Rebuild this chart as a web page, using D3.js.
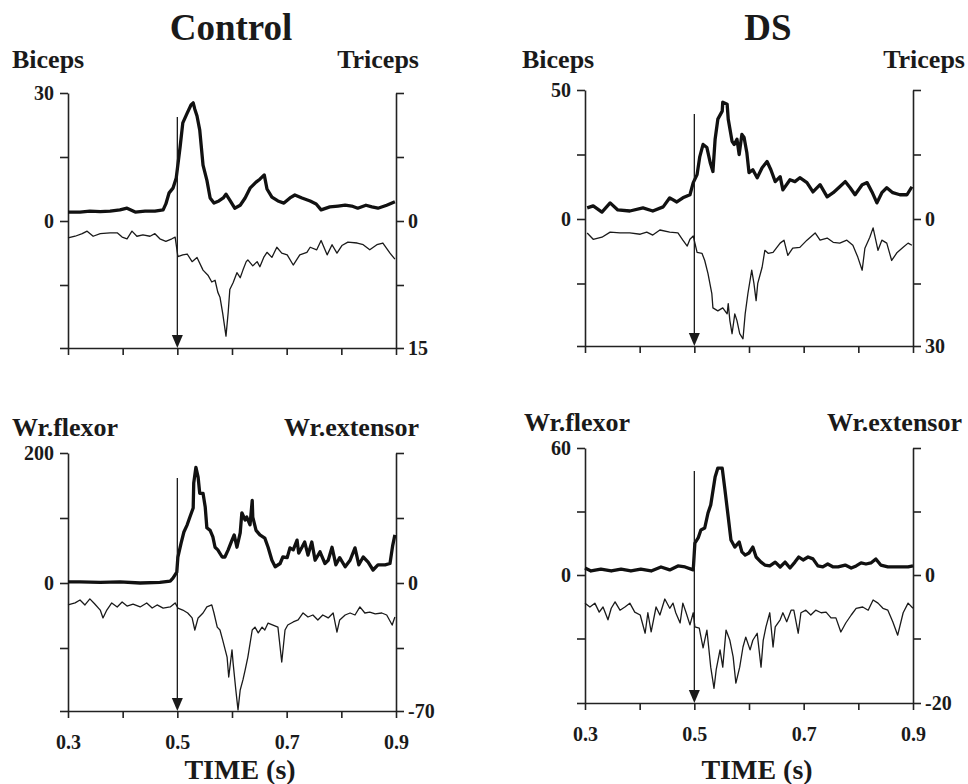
<!DOCTYPE html>
<html>
<head>
<meta charset="utf-8">
<script src="https://cdn.jsdelivr.net/npm/d3@7"></script>
<style>
  body { margin: 0; background: #fff; }
  svg { display: block; }
  .axis path, .axis line { stroke: #222; stroke-width: 1.6px; }
  .lbl { font-family: "Liberation Serif", "Times New Roman", serif; font-weight: bold; fill: #1a1a1a; }
</style>
</head>
<body>
<svg class="fig" width="968" height="784"></svg>
<script>
// ---- data ----
var groups = ["Control", "DS"]
var muscles = [["Biceps", "Triceps"], ["Wr.flexor", "Wr.extensor"]]
var timeTicks = [0.3, 0.4, 0.5, 0.6, 0.7, 0.8, 0.9]
var timeLabels = [0.3, 0.5, 0.7, 0.9]
var stimTime = 0.5
// top value of left axis, bottom value of right axis (panel order: ctrl arm, ds arm, ctrl wrist, ds wrist)
var leftTopValues = [30, 50, 200, 60]
var rightBottomValues = [15, 30, -70, -20]

// Control - biceps (thick, left axis)
var ctrlBicepsT = [0.300,0.322,0.340,0.359,0.377,0.395,0.408,0.423,0.441,0.459,0.474,0.479,0.485,0.492,0.498,0.505,0.510,0.518,0.525,0.529,0.532,0.536,0.541,0.547,0.554,0.560,0.567,0.576,0.584,0.589,0.596,0.605,0.615,0.624,0.633,0.644,0.651,0.659,0.664,0.673,0.684,0.695,0.706,0.715,0.728,0.743,0.754,0.763,0.779,0.794,0.807,0.819,0.830,0.845,0.856,0.867,0.883,0.898]
var ctrlBicepsV = [2.1,2.1,2.3,2.2,2.3,2.6,3.0,2.1,2.3,2.3,2.6,4.0,6.6,7.7,10.1,17.3,23.0,25.3,27.2,27.7,26.2,24.6,21.3,13.1,9.6,5.4,4.2,4.7,5.4,6.3,4.9,3.0,3.7,5.4,7.7,9.1,9.8,10.8,7.5,5.6,4.7,4.2,5.4,6.1,5.4,4.7,4.0,2.6,3.3,3.5,3.7,3.5,3.0,3.7,3.3,3.0,3.7,4.5]
// Control - triceps (thin, right axis)
var ctrlTricepsT = [0.300,0.313,0.326,0.335,0.346,0.359,0.377,0.390,0.399,0.408,0.417,0.426,0.437,0.450,0.459,0.468,0.479,0.490,0.496,0.501,0.510,0.518,0.527,0.536,0.547,0.556,0.563,0.569,0.574,0.578,0.583,0.589,0.593,0.596,0.602,0.609,0.615,0.620,0.626,0.629,0.638,0.646,0.651,0.658,0.664,0.673,0.682,0.691,0.701,0.712,0.724,0.737,0.743,0.755,0.763,0.774,0.783,0.792,0.801,0.812,0.829,0.840,0.852,0.865,0.876,0.889,0.898]
var ctrlTricepsV = [2.0,1.8,1.5,1.2,1.8,1.5,1.4,1.4,1.9,2.1,1.2,1.8,1.65,1.8,1.5,2.1,2.4,2.1,1.9,4.2,4.0,3.9,4.8,4.3,5.8,6.4,7.2,7.0,8.4,9.0,10.9,13.6,10.8,8.1,7.3,6.1,6.7,5.8,4.8,4.6,5.3,4.8,5.4,4.3,3.7,4.3,3.1,3.8,4.0,5.2,4.0,3.7,3.1,3.4,2.3,4.0,2.8,3.8,2.9,2.5,2.6,2.8,3.4,2.8,2.6,3.8,4.5]

// DS - biceps
var dsBicepsT = [0.304,0.315,0.331,0.346,0.360,0.382,0.406,0.424,0.443,0.455,0.468,0.479,0.492,0.498,0.505,0.510,0.516,0.523,0.529,0.534,0.538,0.543,0.551,0.552,0.560,0.562,0.569,0.573,0.578,0.582,0.587,0.591,0.596,0.600,0.607,0.615,0.624,0.633,0.640,0.648,0.657,0.662,0.675,0.684,0.693,0.706,0.717,0.730,0.743,0.754,0.766,0.776,0.785,0.794,0.807,0.816,0.825,0.834,0.843,0.852,0.863,0.876,0.889,0.898]
var dsBicepsV = [4.3,5.1,2.7,6.25,3.5,3.1,4.3,3.1,4.7,8.2,6.6,8.2,9.4,14.1,17.2,24.2,28.9,27.7,21.9,18.4,30.9,38.7,41.8,45.3,44.5,38.7,30.1,28.9,30.9,25.0,32.8,31.6,25.8,18.0,19.1,16.0,19.9,22.3,19.1,14.5,16.4,11.3,15.2,14.5,16.0,14.1,10.5,13.3,8.6,10.2,12.5,14.5,12.1,9.4,13.3,14.1,10.5,6.25,10.2,12.1,10.2,9.4,9.4,12.5]
// DS - triceps
var dsTricepsT = [0.304,0.315,0.331,0.346,0.364,0.382,0.401,0.413,0.424,0.437,0.455,0.470,0.479,0.487,0.492,0.498,0.505,0.514,0.519,0.525,0.532,0.534,0.543,0.552,0.560,0.562,0.565,0.569,0.574,0.578,0.583,0.589,0.593,0.598,0.605,0.609,0.613,0.616,0.624,0.629,0.635,0.644,0.657,0.664,0.671,0.680,0.693,0.706,0.721,0.730,0.743,0.754,0.766,0.779,0.790,0.799,0.807,0.812,0.821,0.827,0.836,0.843,0.852,0.861,0.871,0.882,0.891,0.898]
var dsTricepsV = [3.3,4.8,4.3,3.1,3.3,3.3,3.6,3.1,3.8,2.6,3.1,3.3,5.0,6.4,4.8,4.0,7.9,8.1,9.8,12.9,17.6,21.0,21.7,21.0,22.4,20.0,24.0,27.1,22.4,24.0,27.1,28.3,22.4,17.6,12.1,15.2,19.3,15.2,11.4,7.4,8.1,7.9,5.7,5.0,8.6,6.9,6.7,5.0,3.3,5.0,4.5,5.5,5.7,5.0,6.2,9.0,12.1,6.9,4.3,2.1,7.4,5.0,5.7,9.8,7.9,6.7,5.7,6.2]

// Control - wrist flexor
var ctrlFlexorT = [0.300,0.322,0.359,0.395,0.432,0.468,0.487,0.492,0.499,0.501,0.507,0.512,0.518,0.523,0.529,0.530,0.534,0.538,0.541,0.547,0.551,0.554,0.560,0.565,0.569,0.574,0.582,0.587,0.593,0.600,0.604,0.609,0.615,0.618,0.624,0.627,0.633,0.637,0.638,0.644,0.651,0.660,0.666,0.673,0.679,0.688,0.693,0.701,0.706,0.712,0.719,0.722,0.728,0.733,0.739,0.746,0.752,0.761,0.770,0.776,0.783,0.790,0.797,0.807,0.816,0.825,0.832,0.840,0.849,0.858,0.867,0.880,0.889,0.894,0.898]
var ctrlFlexorV = [1.8,1.8,0.9,1.8,0,0.9,2.8,7.4,16.6,39.7,61.8,78.5,89.5,101.5,115.4,154,178,163,138,138,117,85,81,71,55,51,40,40,51,66,74,55,77,108,97,101.5,89.5,127,101.5,81,74,69,55,35,25,30,40,39,54,51,66,46,55,63,43,63,35,48,30,35,55,28,39,25,35,54,28,40,32,20,28,28,30,58,74]
// Control - wrist extensor
var ctrlExtensorT = [0.300,0.313,0.322,0.331,0.340,0.349,0.359,0.364,0.371,0.380,0.390,0.399,0.408,0.419,0.432,0.444,0.454,0.463,0.474,0.487,0.496,0.501,0.510,0.519,0.527,0.532,0.538,0.547,0.554,0.563,0.567,0.573,0.578,0.583,0.591,0.594,0.600,0.602,0.607,0.611,0.615,0.620,0.624,0.629,0.637,0.642,0.648,0.655,0.660,0.666,0.675,0.684,0.691,0.697,0.702,0.712,0.721,0.730,0.739,0.748,0.757,0.766,0.776,0.785,0.792,0.797,0.807,0.816,0.825,0.834,0.843,0.852,0.862,0.874,0.883,0.893,0.898]
var ctrlExtensorV = [-12.0,-10.9,-9.3,-12.0,-8.7,-11.5,-14.8,-19.1,-14.8,-10.9,-13.1,-10.4,-12.6,-11.5,-13.1,-10.9,-13.7,-12.0,-13.7,-13.1,-10.9,-13.7,-14.8,-16.4,-19.1,-25.7,-19.1,-16.4,-13.1,-12.0,-16.4,-24.1,-25.7,-31.2,-40.5,-51.4,-36.6,-43.7,-58.5,-69.4,-58.5,-53.0,-47.6,-40.5,-25.7,-24.1,-27.3,-24.1,-25.7,-21.9,-23.0,-24.1,-43.2,-25.7,-23.0,-21.3,-20.2,-16.4,-18.6,-17.5,-20.2,-17.5,-19.1,-16.4,-26.8,-20.2,-17.5,-16.4,-17.5,-13.1,-16.4,-15.9,-16.9,-16.4,-17.5,-23.0,-18.6]

// DS - wrist flexor
var dsFlexorT = [0.300,0.311,0.329,0.348,0.366,0.384,0.402,0.421,0.439,0.455,0.470,0.483,0.498,0.501,0.507,0.512,0.519,0.525,0.530,0.538,0.543,0.551,0.556,0.562,0.567,0.574,0.582,0.587,0.593,0.600,0.607,0.613,0.622,0.629,0.638,0.648,0.657,0.666,0.675,0.684,0.691,0.699,0.708,0.717,0.726,0.735,0.744,0.754,0.763,0.776,0.787,0.796,0.805,0.814,0.823,0.832,0.841,0.854,0.867,0.878,0.891,0.900]
var dsFlexorV = [3.3,1.9,2.8,1.9,2.8,1.9,2.8,1.9,3.8,2.4,4.3,3.8,2.4,15.1,17.5,21.3,22.2,29.3,33.1,46.3,50.5,50.5,40.2,27.4,16.5,13.2,15.6,10.9,9.4,10.4,13.2,8.5,6.1,4.7,4.3,6.1,3.8,6.1,3.3,6.1,8.5,7.1,8.5,7.6,4.3,3.8,5.2,3.8,3.8,4.7,3.3,4.3,5.7,5.2,5.7,7.6,4.7,3.8,3.8,3.8,3.8,4.3]
// DS - wrist extensor
var dsExtensorT = [0.300,0.309,0.318,0.326,0.333,0.342,0.348,0.355,0.364,0.373,0.382,0.391,0.401,0.410,0.415,0.421,0.430,0.437,0.446,0.455,0.461,0.466,0.474,0.479,0.485,0.492,0.498,0.501,0.509,0.516,0.523,0.530,0.536,0.540,0.547,0.552,0.558,0.565,0.571,0.576,0.583,0.589,0.594,0.602,0.607,0.615,0.622,0.626,0.631,0.638,0.644,0.648,0.657,0.662,0.669,0.677,0.682,0.690,0.695,0.704,0.713,0.722,0.732,0.741,0.750,0.759,0.768,0.777,0.787,0.796,0.808,0.818,0.827,0.836,0.845,0.854,0.863,0.872,0.882,0.891,0.900]
var dsExtensorV = [-4.4,-5.0,-4.4,-5.8,-5.0,-7.0,-5.2,-4.2,-5.5,-5.0,-4.4,-5.8,-6.25,-9.1,-5.9,-8.9,-5.0,-6.25,-3.75,-5.2,-4.4,-5.9,-7.5,-4.4,-5.9,-7.8,-5.9,-8.1,-8.3,-11.4,-8.6,-14.4,-17.7,-14.8,-11.7,-14.4,-8.6,-10.2,-12.8,-16.9,-14.4,-11.25,-9.7,-11.7,-10.2,-9.1,-14.4,-10.2,-8.1,-5.9,-11.25,-8.1,-7.0,-5.9,-7.3,-5.5,-5.5,-9.1,-5.9,-5.5,-6.25,-5.5,-5.9,-5.8,-6.7,-6.7,-8.9,-7.5,-6.25,-5.2,-5.0,-5.5,-3.9,-4.4,-5.2,-5.5,-7.3,-9.4,-5.9,-4.4,-5.2]

// ---- layout (pixels) ----
var layout = [
  {x0: 68,  x1: 396, top: 93,  zero: 221, bottom: 348, arrowTop: 117, nameY: 68,  nameL: 12,  nameR: 419, timeX: 240, row: 0},
  {x0: 585, x1: 913, top: 90,  zero: 219, bottom: 346, arrowTop: 114, nameY: 68,  nameL: 522, nameR: 965, timeX: 757, row: 0},
  {x0: 68,  x1: 396, top: 453, zero: 583, bottom: 711, arrowTop: 478, nameY: 436, nameL: 12,  nameR: 419, timeX: 240, row: 1},
  {x0: 585, x1: 913, top: 448, zero: 575, bottom: 703, arrowTop: 471, nameY: 431, nameL: 524, nameR: 962, timeX: 757, row: 1}
]
var titleX = [231, 768]
var traces = [
  [[ctrlBicepsT, ctrlBicepsV], [ctrlTricepsT, ctrlTricepsV]],
  [[dsBicepsT, dsBicepsV], [dsTricepsT, dsTricepsV]],
  [[ctrlFlexorT, ctrlFlexorV], [ctrlExtensorT, ctrlExtensorV]],
  [[dsFlexorT, dsFlexorV], [dsExtensorT, dsExtensorV]]
]

var svg = d3.select(".fig")
var serif = "'Liberation Serif', 'Times New Roman', serif"

function styleAxis(sel, size) {
  sel.attr("font-family", serif).attr("font-size", size).attr("font-weight", "bold")
  sel.selectAll("text").attr("fill", "#1a1a1a")
}

function drawPanel(p, i) {
  var hi = leftTopValues[i]
  var rb = rightBottomValues[i]
  var leftBottom = -hi * (p.bottom - p.zero) / (p.zero - p.top)
  var rightTop = -rb * (p.zero - p.top) / (p.bottom - p.zero)

  var x = d3.scaleLinear().domain([0.3, 0.9]).range([p.x0, p.x1])
  var yL = d3.scaleLinear().domain([leftBottom, hi]).range([p.bottom, p.top])
  var yR = d3.scaleLinear().domain([rightTop, rb]).range([p.top, p.bottom])

  var leftTicks = [hi, hi / 2, 0, -hi / 2, leftBottom]
  var rightTicks = leftTicks.map(v => yR.invert(yL(v)))
  rightTicks[rightTicks.length - 1] = rb

  var g = svg.append("g").attr("class", "panel")

  g.append("g")
    .attr("class", "axis")
    .attr("transform", "translate(" + p.x0 + ",0)")
    .call(d3.axisLeft(yL).tickValues(leftTicks).tickSize(8).tickSizeOuter(0).tickPadding(6)
      .tickFormat(d => (d === hi || d === 0) ? String(d) : ""))
    .call(styleAxis, 20)

  g.append("g")
    .attr("class", "axis")
    .attr("transform", "translate(" + p.x1 + ",0)")
    .call(d3.axisRight(yR).tickValues(rightTicks).tickSize(8).tickSizeOuter(0).tickPadding(4)
      .tickFormat(d => d === rb ? String(rb) : (Math.abs(d) < 1e-9 ? "0" : "")))
    .call(styleAxis, 20)

  g.append("g")
    .attr("class", "axis")
    .attr("transform", "translate(0," + p.bottom + ")")
    .call(d3.axisBottom(x).tickValues(timeTicks).tickSize(7).tickSizeOuter(0).tickPadding(17)
      .tickFormat(d => (p.row === 1 && timeLabels.some(t => Math.abs(t - d) < 1e-9)) ? d3.format(".1f")(d) : ""))
    .call(styleAxis, 20)

  // thin trace (right axis) first, thick on top
  var lineR = d3.line().x(d => x(d[0])).y(d => yR(d[1]))
  var lineL = d3.line().x(d => x(d[0])).y(d => yL(d[1]))

  g.append("path")
    .datum(d3.zip(traces[i][1][0], traces[i][1][1]))
    .attr("d", lineR)
    .attr("fill", "none")
    .attr("stroke", "#1a1a1a")
    .attr("stroke-width", 1.3)
    .attr("stroke-linejoin", "round")

  g.append("path")
    .datum(d3.zip(traces[i][0][0], traces[i][0][1]))
    .attr("d", lineL)
    .attr("fill", "none")
    .attr("stroke", "#111")
    .attr("stroke-width", 3.3)
    .attr("stroke-linejoin", "round")

  // stimulus arrow
  var cx = x(stimTime)
  g.append("line")
    .attr("x1", cx).attr("x2", cx)
    .attr("y1", p.arrowTop).attr("y2", p.bottom - 4)
    .attr("stroke", "#1a1a1a").attr("stroke-width", 1.3)
  g.append("path")
    .attr("d", "M" + (cx - 5.5) + "," + (p.bottom - 13) + "L" + (cx + 5.5) + "," + (p.bottom - 13) + "L" + cx + "," + p.bottom + "Z")
    .attr("fill", "#1a1a1a")

  // muscle names
  var names = muscles[p.row]
  g.append("text").attr("class", "lbl")
    .attr("x", p.nameL)
    .attr("y", p.nameY)
    .style("font-size", "26px")
    .text(names[0])
  g.append("text").attr("class", "lbl")
    .attr("x", p.nameR)
    .attr("y", p.nameY)
    .attr("text-anchor", "end")
    .style("font-size", "26px")
    .text(names[1])

  if (p.row === 1) {
    g.append("text").attr("class", "lbl")
      .attr("x", p.timeX)
      .attr("y", 779)
      .attr("text-anchor", "middle")
      .style("font-size", "28px")
      .text("TIME (s)")
  }
}

layout.forEach(drawPanel)

groups.forEach((name, i) => {
  svg.append("text").attr("class", "lbl")
    .attr("x", titleX[i])
    .attr("y", 40)
    .attr("text-anchor", "middle")
    .style("font-size", "37px")
    .text(name)
})
</script>
</body>
</html>
